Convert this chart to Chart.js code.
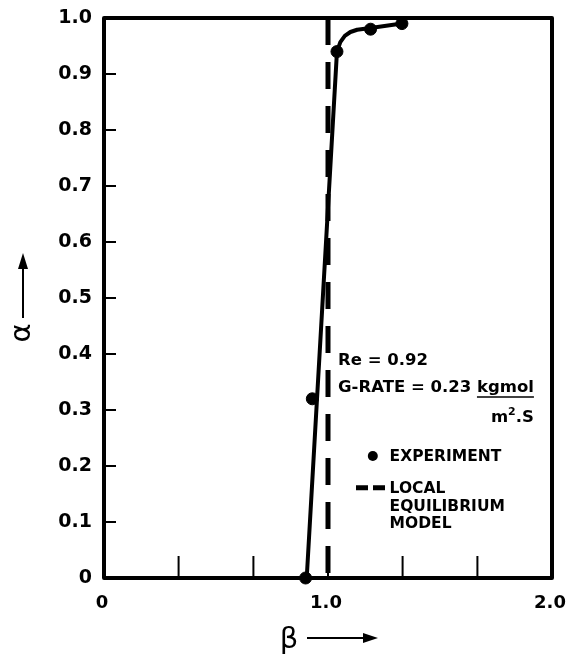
<!DOCTYPE html>
<html>
<head>
<meta charset="utf-8">
<script src="https://cdn.jsdelivr.net/npm/chart.js@4"></script>
<style>
  body { margin: 0; background: #fff; }
</style>
</head>
<body>
<canvas id="chart" width="567" height="654"></canvas>
<script>
// experiment points (beta, alpha)
const expBeta = [0.90, 0.93, 1.04, 1.19, 1.33];
const expAlpha = [0.00, 0.32, 0.94, 0.98, 0.99];

// solid fitted curve through the experiment
const fitBeta = [0.905, 1.04, 1.055, 1.075, 1.10, 1.13, 1.19, 1.33];
const fitAlpha = [0.00, 0.94, 0.957, 0.968, 0.975, 0.979, 0.982, 0.99];

// local equilibrium model (vertical dashed line)
const modelBeta = [1.0, 1.0];
const modelAlpha = [1.0, 0.0];

const yTickMarks = [0.1, 0.2, 0.3, 0.4, 0.5, 0.6, 0.7, 0.8, 0.9];
const xTickMarks = [0.333, 0.667, 1.0, 1.333, 1.667];

const FONT = "'DejaVu Sans', sans-serif";

function toPts(xs, ys) {
    return xs.map((x, i) => ({ x: x, y: ys[i] }));
}

const framePlugin = {
    id: "frame",
    beforeDatasetsDraw(chart) {
        const { ctx, chartArea: a } = chart;
        const xs = chart.scales.x, ys = chart.scales.y;
        ctx.save();
        ctx.strokeStyle = "#000";
        ctx.lineWidth = 4;
        ctx.lineJoin = "round";
        ctx.strokeRect(a.left, a.top, a.right - a.left, a.bottom - a.top);
        ctx.lineWidth = 2;
        yTickMarks.forEach(v => {
            const y = ys.getPixelForValue(v);
            ctx.beginPath();
            ctx.moveTo(a.left, y);
            ctx.lineTo(a.left + 12, y);
            ctx.stroke();
        });
        xTickMarks.forEach(v => {
            const x = xs.getPixelForValue(v);
            ctx.beginPath();
            ctx.moveTo(x, a.bottom);
            ctx.lineTo(x, a.bottom - 22);
            ctx.stroke();
        });
        ctx.restore();
    },
    afterDraw(chart) {
        const { ctx } = chart;
        const xs = chart.scales.x, ys = chart.scales.y;
        const px = v => xs.getPixelForValue(v);
        const py = v => ys.getPixelForValue(v);
        ctx.save();
        ctx.fillStyle = "#000";
        ctx.strokeStyle = "#000";

        // Re / G-RATE note
        ctx.font = "bold 16.5px " + FONT;
        ctx.textBaseline = "alphabetic";
        ctx.textAlign = "left";
        const nx = px(1.045);
        ctx.fillText("Re = 0.92", nx, py(0.380));
        const g = "G-RATE = 0.23 ";
        ctx.fillText(g, nx, py(0.332));
        const kx = nx + ctx.measureText(g).width;
        ctx.fillText("kgmol", kx, py(0.332));
        const kw = ctx.measureText("kgmol").width;
        ctx.lineWidth = 1.5;
        ctx.beginPath();
        ctx.moveTo(kx, py(0.323));
        ctx.lineTo(kx + kw, py(0.323));
        ctx.stroke();
        // m^2.S, right aligned under kgmol
        const sw = ctx.measureText(".S").width;
        ctx.font = "bold 11px " + FONT;
        const w2 = ctx.measureText("2").width;
        ctx.font = "bold 16.5px " + FONT;
        const mw = ctx.measureText("m").width;
        const right = kx + kw;
        const mx = right - sw - w2 - mw;
        ctx.fillText("m", mx, py(0.279));
        ctx.fillText(".S", right - sw, py(0.279));
        ctx.font = "bold 11px " + FONT;
        ctx.fillText("2", mx + mw, py(0.279) - 7);

        // legend
        ctx.font = "bold 15.5px " + FONT;
        ctx.textBaseline = "middle";
        ctx.beginPath();
        ctx.arc(px(1.2), py(0.218), 5, 0, Math.PI * 2);
        ctx.fill();
        ctx.fillText("EXPERIMENT", px(1.275), py(0.216));
        ctx.lineWidth = 5;
        ctx.setLineDash([12, 5]);
        ctx.beginPath();
        ctx.moveTo(px(1.125), py(0.161));
        ctx.lineTo(px(1.265), py(0.161));
        ctx.stroke();
        ctx.setLineDash([]);
        ctx.fillText("LOCAL", px(1.275), py(0.159));
        ctx.fillText("EQUILIBRIUM", px(1.275), py(0.126));
        ctx.fillText("MODEL", px(1.275), py(0.096));

        // axis titles with arrows
        ctx.font = "29px " + FONT;
        ctx.textAlign = "center";
        ctx.fillText("\u03b2", 289, 640);
        ctx.lineWidth = 2;
        ctx.beginPath();
        ctx.moveTo(307, 638);
        ctx.lineTo(366, 638);
        ctx.stroke();
        ctx.beginPath();
        ctx.moveTo(378, 638);
        ctx.lineTo(363, 633);
        ctx.lineTo(363, 643);
        ctx.closePath();
        ctx.fill();

        ctx.save();
        ctx.translate(22, 333);
        ctx.rotate(-Math.PI / 2);
        ctx.fillText("\u03b1", 0, 0);
        ctx.restore();
        ctx.beginPath();
        ctx.moveTo(23, 318);
        ctx.lineTo(23, 266);
        ctx.stroke();
        ctx.beginPath();
        ctx.moveTo(23, 253);
        ctx.lineTo(18, 269);
        ctx.lineTo(28, 269);
        ctx.closePath();
        ctx.fill();

        ctx.restore();
    }
};

const chart = new Chart(document.getElementById("chart"), {
    type: "scatter",
    data: {
        datasets: [
            {
                label: "Model",
                data: toPts(modelBeta, modelAlpha),
                showLine: true,
                borderColor: "#000",
                borderWidth: 5,
                borderDash: [27, 17],
                pointRadius: 0,
                tension: 0,
                clip: false
            },
            {
                label: "Fit",
                data: toPts(fitBeta, fitAlpha),
                showLine: true,
                borderColor: "#000",
                borderWidth: 4,
                borderJoinStyle: "round",
                tension: 0,
                pointRadius: 0,
                clip: false
            },
            {
                label: "Experiment",
                data: toPts(expBeta, expAlpha),
                showLine: false,
                backgroundColor: "#000",
                borderColor: "#000",
                pointRadius: 6,
                clip: false
            }
        ]
    },
    options: {
        responsive: false,
        animation: false,
        layout: { padding: { top: 18, right: 15, left: 0, bottom: 0 } },
        plugins: {
            legend: { display: false },
            tooltip: { enabled: false }
        },
        scales: {
            x: {
                type: "linear",
                min: 0,
                max: 2,
                afterFit: s => { s.height = 76; s.paddingLeft = 0; s.paddingRight = 0; },
                grid: { display: false, drawTicks: false },
                border: { display: false },
                ticks: {
                    stepSize: 1,
                    padding: 15,
                    labelOffset: -2,
                    color: "#000",
                    font: { family: FONT, size: 18, weight: "bold" },
                    callback: v => v === 0 ? "0" : v.toFixed(1)
                }
            },
            y: {
                type: "linear",
                min: 0,
                max: 1,
                afterFit: s => { s.width = 104; s.paddingTop = 0; s.paddingBottom = 0; },
                grid: { display: false, drawTicks: false },
                border: { display: false },
                ticks: {
                    stepSize: 0.1,
                    padding: 12,
                    color: "#000",
                    font: { family: FONT, size: 19, weight: "bold" },
                    callback: v => v === 0 ? "0" : v.toFixed(1)
                }
            }
        }
    },
    plugins: [framePlugin]
});
</script>
</body>
</html>
